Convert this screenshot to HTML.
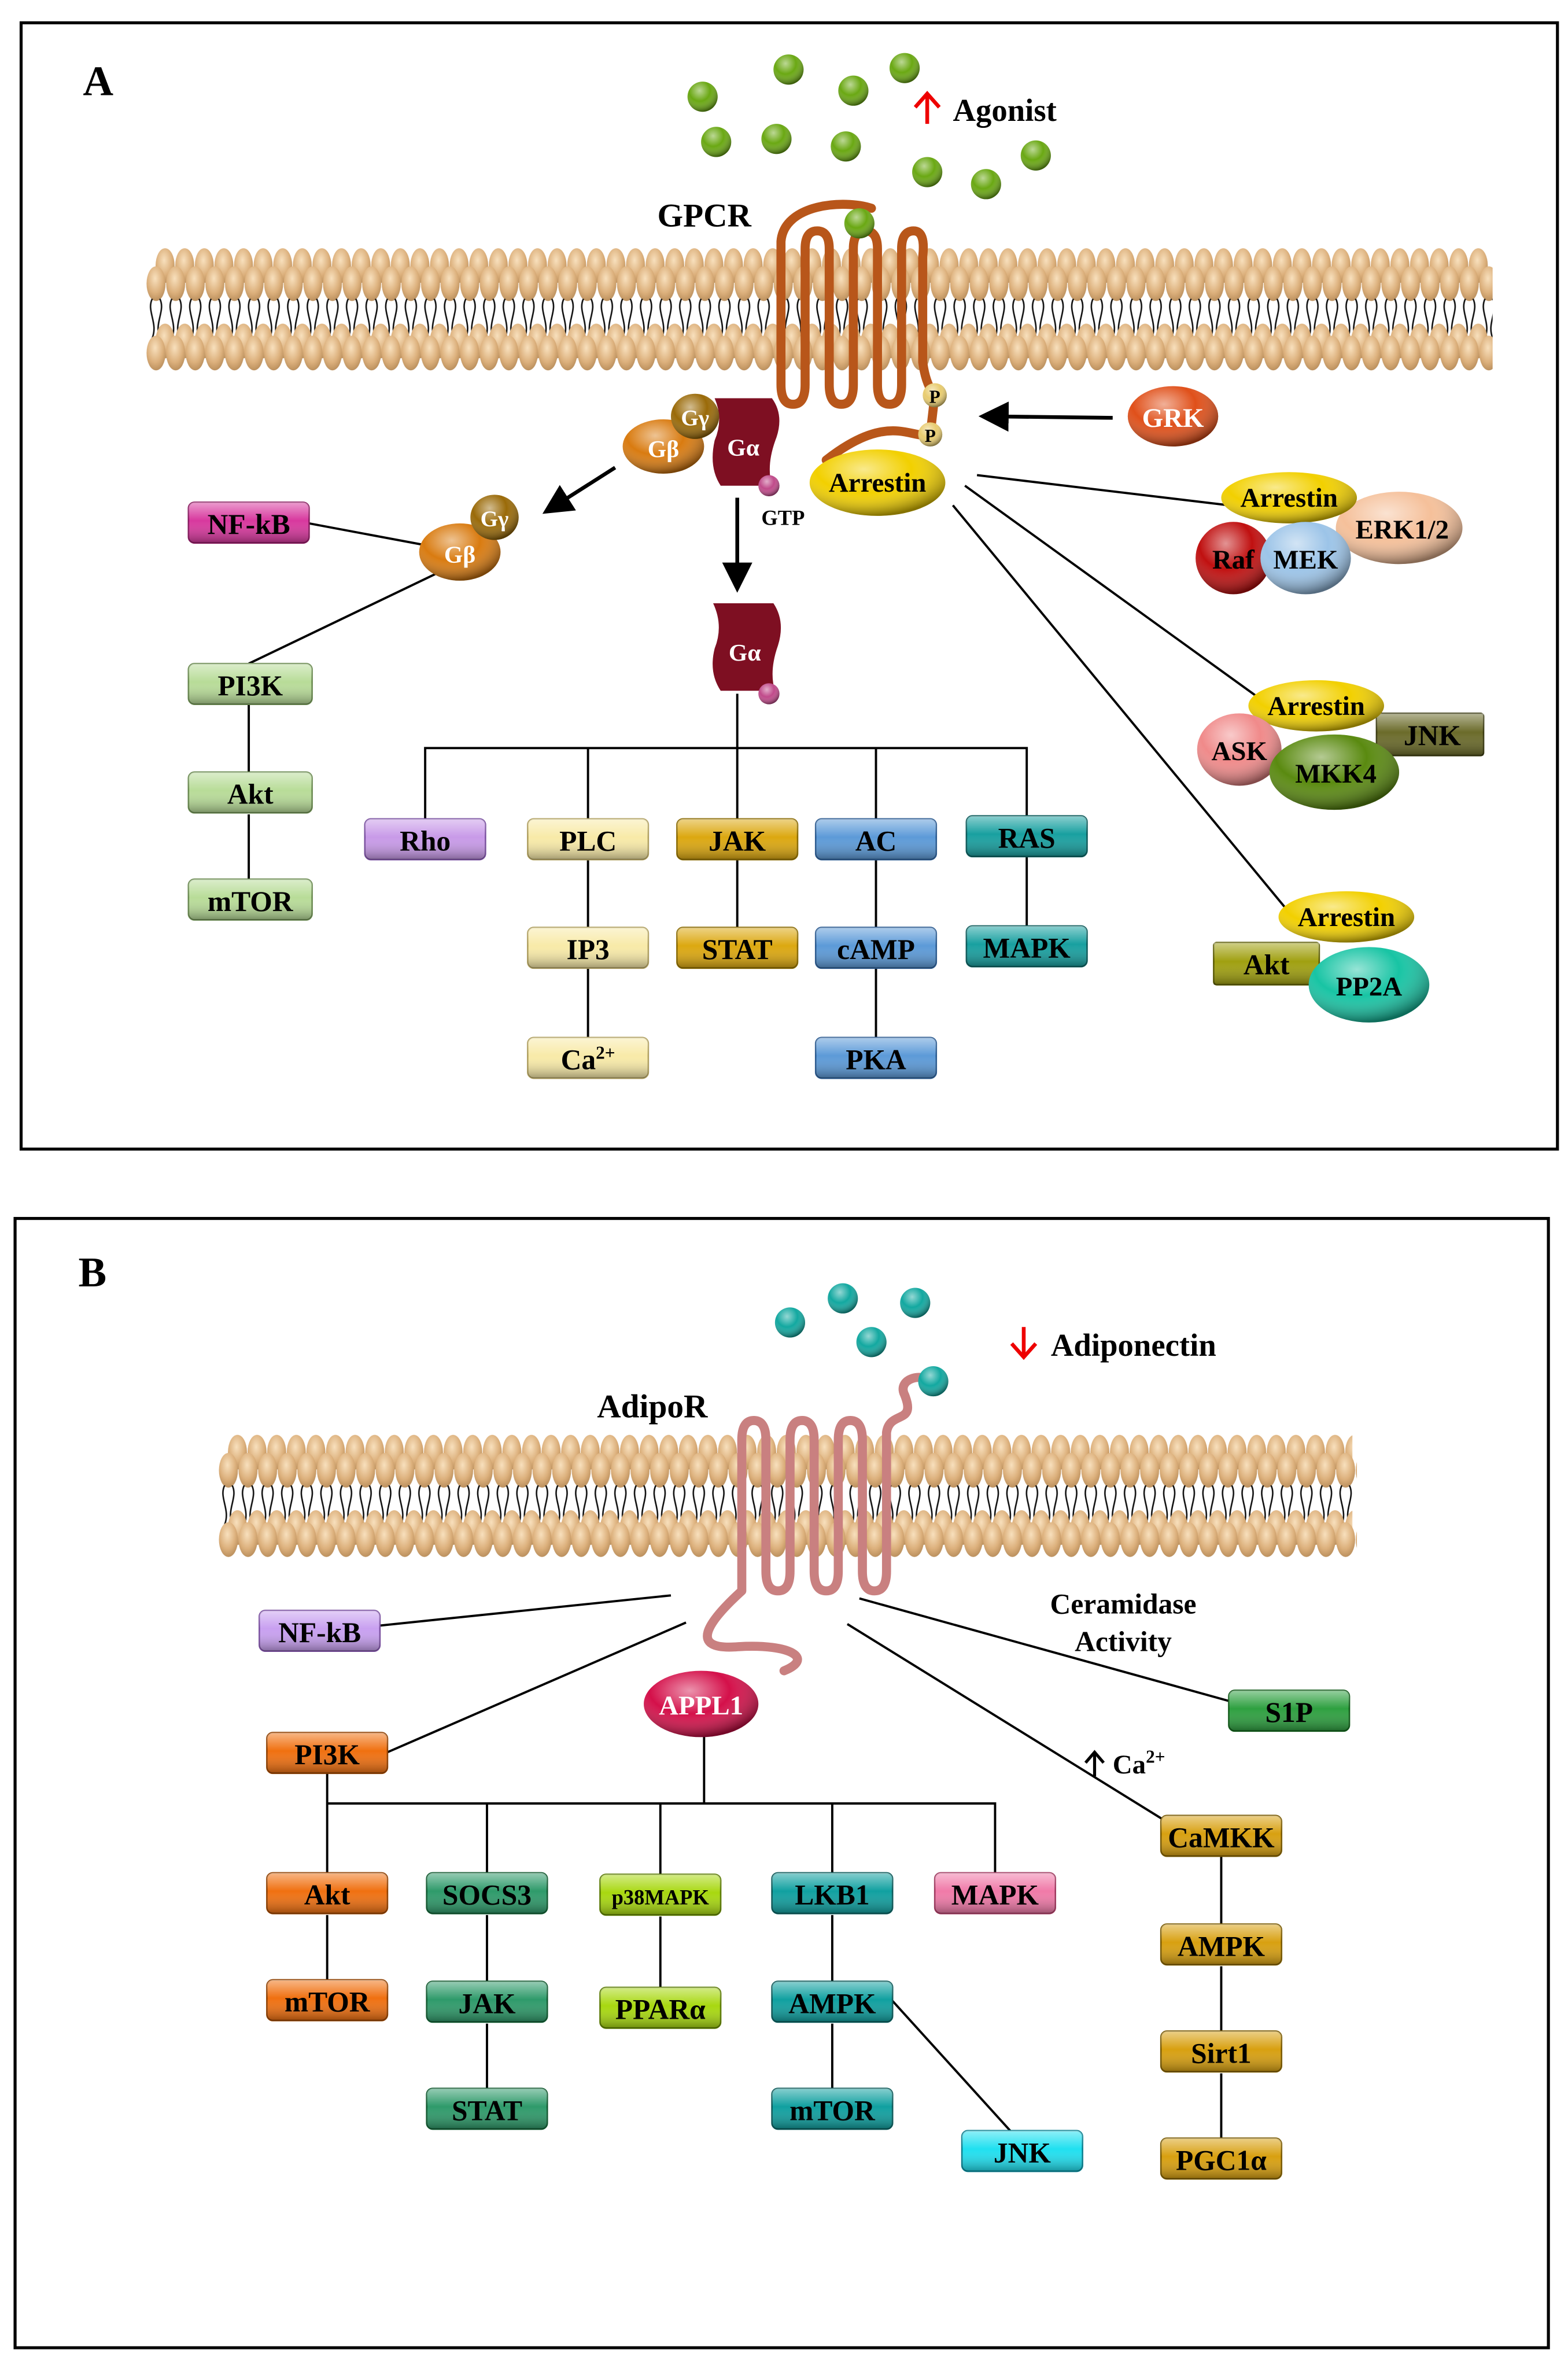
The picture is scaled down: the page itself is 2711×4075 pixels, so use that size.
<!DOCTYPE html>
<html><head><meta charset="utf-8"><style>html,body{margin:0;padding:0;background:#fff}svg{display:block}text{font-family:"Liberation Serif",serif;font-weight:bold}</style></head>
<body>
<svg width="2711" height="4075" viewBox="0 0 1040 1563" xmlns="http://www.w3.org/2000/svg">
<defs>
<linearGradient id="shine" x1="0" y1="0" x2="0" y2="1"><stop offset="0" stop-color="#fff" stop-opacity="0.5"/><stop offset="0.45" stop-color="#fff" stop-opacity="0"/><stop offset="1" stop-color="#000" stop-opacity="0.35"/></linearGradient>
<radialGradient id="ball" cx="0.4" cy="0.3" r="0.7"><stop offset="0" stop-color="#fff" stop-opacity="0.55"/><stop offset="0.5" stop-color="#fff" stop-opacity="0"/><stop offset="1" stop-color="#000" stop-opacity="0.45"/></radialGradient>
<radialGradient id="head" cx="0.45" cy="0.35" r="0.7"><stop offset="0" stop-color="#f8e0bd"/><stop offset="0.6" stop-color="#dcb07c"/><stop offset="1" stop-color="#b58a58"/></radialGradient>
<pattern id="heads" width="13" height="24" patternUnits="userSpaceOnUse"><ellipse cx="6.5" cy="12" rx="6.3" ry="11.5" fill="url(#head)"/></pattern>
<pattern id="tails" width="13" height="26" patternUnits="userSpaceOnUse"><path d="M4 0 C0 8,8 16,4 26 M9 0 C13 8,5 16,9 26" stroke="#111" stroke-width="1" fill="none"/></pattern>
<marker id="ah" markerWidth="8" markerHeight="8" refX="6" refY="4" orient="auto" markerUnits="strokeWidth"><path d="M0,0 L8,4 L0,8 Z" fill="#000"/></marker>
</defs>

<rect x="14" y="15" width="1019" height="747" fill="none" stroke="#000" stroke-width="2"/>
<rect x="10" y="808" width="1017" height="749" fill="none" stroke="#000" stroke-width="2"/>
<text x="55" y="63" font-size="28">A</text>
<text x="52" y="853" font-size="28">B</text>

<!-- Membrane A -->
<g transform="translate(103,164)"><rect x="0" y="0" width="884" height="24" fill="url(#heads)"/></g>
<g transform="translate(97,176)"><rect x="0" y="0" width="893" height="24" fill="url(#heads)"/></g>
<g transform="translate(97,198)"><rect x="0" y="0" width="893" height="26" fill="url(#tails)"/></g>
<g transform="translate(103,214)"><rect x="0" y="0" width="884" height="24" fill="url(#heads)"/></g>
<g transform="translate(97,222)"><rect x="0" y="0" width="893" height="24" fill="url(#heads)"/></g>

<g fill="#6aa813">
<circle cx="466" cy="64" r="10"/><circle cx="523" cy="46" r="10"/><circle cx="566" cy="60" r="10"/><circle cx="600" cy="45" r="10"/><circle cx="475" cy="94" r="10"/><circle cx="515" cy="92" r="10"/><circle cx="561" cy="97" r="10"/><circle cx="615" cy="114" r="10"/><circle cx="654" cy="122" r="10"/><circle cx="687" cy="103" r="10"/></g>
<g fill="url(#ball)"><circle cx="466" cy="64" r="10"/><circle cx="523" cy="46" r="10"/><circle cx="566" cy="60" r="10"/><circle cx="600" cy="45" r="10"/><circle cx="475" cy="94" r="10"/><circle cx="515" cy="92" r="10"/><circle cx="561" cy="97" r="10"/><circle cx="615" cy="114" r="10"/><circle cx="654" cy="122" r="10"/><circle cx="687" cy="103" r="10"/></g>
<path d="M615,82 L615,63 M607,71 L615,62 L623,71" stroke="#e00" stroke-width="2.5" fill="none"/>
<text x="632" y="80" font-size="21">Agonist</text>
<text x="436" y="150" font-size="22">GPCR</text>

<path d="M578,138 C560,132 520,135 518,160 L518,255 Q518,268 526,268 Q534,268 534,255 L534,165 Q534,153 542,153 Q550,153 550,165 L550,255 Q550,268 558,268 Q566,268 566,255 L566,165 Q566,153 574,153 Q582,153 582,165 L582,255 Q582,268 590,268 Q598,268 598,255 L598,165 Q598,153 606,153 Q614,153 612,170 L612,240 Q614,255 620,262 L617,288 C605,292 590,272 548,305" stroke="#b8561a" stroke-width="6" fill="none" stroke-linecap="round" stroke-linejoin="round"/>
<circle cx="570" cy="148" r="10" fill="#6aa813"/><circle cx="570" cy="148" r="10" fill="url(#ball)"/>
<circle cx="620" cy="262" r="8" fill="#e8cc70"/><circle cx="620" cy="262" r="8" fill="url(#ball)"/><text x="620" y="267" font-size="12" text-anchor="middle">P</text>
<circle cx="617" cy="288" r="8" fill="#e8cc70"/><circle cx="617" cy="288" r="8" fill="url(#ball)"/><text x="617" y="293" font-size="12" text-anchor="middle">P</text>

<path d="M474,264 L512,264 Q520,275 515,290 Q508,308 512,322 L478,322 Q470,310 474,292 Q480,278 474,264 Z" fill="#7e0f22"/>
<text x="493" y="302" font-size="16" fill="#fff" text-anchor="middle">Gα</text>
<circle cx="510" cy="322" r="7" fill="#c04a8a"/><circle cx="510" cy="322" r="7" fill="url(#ball)"/>
<text x="505" y="348" font-size="14">GTP</text>
<ellipse cx="440" cy="296" rx="27" ry="18" fill="#d97b10"/><ellipse cx="440" cy="296" rx="27" ry="18" fill="url(#ball)"/><text x="440" y="303" font-size="16" fill="#fff" text-anchor="middle">Gβ</text>
<ellipse cx="461" cy="276" rx="16" ry="15" fill="#9a6a08"/><ellipse cx="461" cy="276" rx="16" ry="15" fill="url(#ball)"/><text x="461" y="282" font-size="15" fill="#fff" text-anchor="middle">Gγ</text>

<line x1="408" y1="310" x2="364" y2="338" stroke="#000" stroke-width="2.5" marker-end="url(#ah)"/>
<line x1="489" y1="330" x2="489" y2="388" stroke="#000" stroke-width="2.5" marker-end="url(#ah)"/>
<line x1="738" y1="277" x2="654" y2="276" stroke="#000" stroke-width="2.5" marker-end="url(#ah)"/>

<line x1="205" y1="347" x2="285" y2="362" stroke="#000" stroke-width="1.5"/>
<line x1="290" y1="380" x2="165" y2="440" stroke="#000" stroke-width="1.5"/>
<ellipse cx="305" cy="366" rx="27" ry="19" fill="#d97b10"/><ellipse cx="305" cy="366" rx="27" ry="19" fill="url(#ball)"/><text x="305" y="373" font-size="16" fill="#fff" text-anchor="middle">Gβ</text>
<ellipse cx="328" cy="343" rx="16" ry="15" fill="#9a6a08"/><ellipse cx="328" cy="343" rx="16" ry="15" fill="url(#ball)"/><text x="328" y="349" font-size="15" fill="#fff" text-anchor="middle">Gγ</text>

<path d="M473,400 L513,400 Q521,412 516,428 Q510,445 514,458 L478,458 Q470,446 474,430 Q480,415 473,400 Z" fill="#7e0f22"/>
<text x="494" y="438" font-size="16" fill="#fff" text-anchor="middle">Gα</text>
<circle cx="510" cy="460" r="7" fill="#c04a8a"/><circle cx="510" cy="460" r="7" fill="url(#ball)"/>

<g stroke="#000" stroke-width="1.5" fill="none">
<line x1="165" y1="467" x2="165" y2="512"/><line x1="165" y1="540" x2="165" y2="583"/>
<line x1="489" y1="460" x2="489" y2="496"/>
<polyline points="282,543 282,496 681,496 681,541"/>
<line x1="390" y1="496" x2="390" y2="543"/><line x1="489" y1="496" x2="489" y2="543"/><line x1="581" y1="496" x2="581" y2="543"/>
<line x1="390" y1="570" x2="390" y2="615"/><line x1="390" y1="642" x2="390" y2="688"/>
<line x1="489" y1="570" x2="489" y2="615"/>
<line x1="581" y1="570" x2="581" y2="615"/><line x1="581" y1="642" x2="581" y2="688"/>
<line x1="681" y1="568" x2="681" y2="614"/>
<line x1="648" y1="315" x2="815" y2="335"/>
<line x1="640" y1="322" x2="845" y2="470"/>
<line x1="632" y1="335" x2="855" y2="605"/>
</g>

<ellipse cx="582" cy="320" rx="45" ry="22" fill="#f2d000"/><ellipse cx="582" cy="320" rx="45" ry="22" fill="url(#ball)"/><text x="582" y="326" font-size="18" text-anchor="middle">Arrestin</text>
<ellipse cx="778" cy="276" rx="30" ry="20" fill="#e0501a"/><ellipse cx="778" cy="276" rx="30" ry="20" fill="url(#ball)"/><text x="778" y="283" font-size="18" fill="#fff" text-anchor="middle">GRK</text>

<ellipse cx="928" cy="350" rx="42" ry="24" fill="#f5c09a"/><ellipse cx="928" cy="350" rx="42" ry="24" fill="url(#ball)"/><text x="930" y="357" font-size="18" text-anchor="middle">ERK1/2</text>
<ellipse cx="855" cy="330" rx="45" ry="17" fill="#f2d000"/><ellipse cx="855" cy="330" rx="45" ry="17" fill="url(#ball)"/><text x="855" y="336" font-size="18" text-anchor="middle">Arrestin</text>
<ellipse cx="818" cy="370" rx="25" ry="24" fill="#c01010"/><ellipse cx="818" cy="370" rx="25" ry="24" fill="url(#ball)"/><text x="818" y="377" font-size="18" text-anchor="middle">Raf</text>
<ellipse cx="866" cy="370" rx="30" ry="24" fill="#9cc4e8"/><ellipse cx="866" cy="370" rx="30" ry="24" fill="url(#ball)"/><text x="866" y="377" font-size="18" text-anchor="middle">MEK</text>

<rect x="913" y="473" width="71" height="28" rx="2" fill="#6b6b2a" stroke="#3a3a10"/><rect x="913" y="473" width="71" height="28" fill="url(#shine)"/><text x="950" y="494" font-size="19" text-anchor="middle">JNK</text>
<ellipse cx="873" cy="468" rx="45" ry="17" fill="#f2d000"/><ellipse cx="873" cy="468" rx="45" ry="17" fill="url(#ball)"/><text x="873" y="474" font-size="18" text-anchor="middle">Arrestin</text>
<ellipse cx="822" cy="497" rx="28" ry="24" fill="#f08a8a"/><ellipse cx="822" cy="497" rx="28" ry="24" fill="url(#ball)"/><text x="822" y="504" font-size="18" text-anchor="middle">ASK</text>
<ellipse cx="885" cy="512" rx="43" ry="25" fill="#5a8a10"/><ellipse cx="885" cy="512" rx="43" ry="25" fill="url(#ball)"/><text x="886" y="519" font-size="18" text-anchor="middle">MKK4</text>

<ellipse cx="893" cy="608" rx="45" ry="17" fill="#f2d000"/><ellipse cx="893" cy="608" rx="45" ry="17" fill="url(#ball)"/><text x="893" y="614" font-size="18" text-anchor="middle">Arrestin</text>
<rect x="805" y="625" width="70" height="28" rx="2" fill="#a0a010" stroke="#5a5a00"/><rect x="805" y="625" width="70" height="28" fill="url(#shine)"/><text x="840" y="646" font-size="19" text-anchor="middle">Akt</text>
<ellipse cx="908" cy="653" rx="40" ry="25" fill="#18c4a4"/><ellipse cx="908" cy="653" rx="40" ry="25" fill="url(#ball)"/><text x="908" y="660" font-size="18" text-anchor="middle">PP2A</text>

<g font-size="19" text-anchor="middle">
<rect x="125" y="333" width="80" height="27" rx="4" fill="#d8389e" stroke="#8a1a60"/><rect x="125" y="333" width="80" height="27" rx="4" fill="url(#shine)"/><text x="165" y="354">NF-kB</text>
<rect x="125" y="440" width="82" height="27" rx="4" fill="#b8dc98" stroke="#6a8a50"/><rect x="125" y="440" width="82" height="27" rx="4" fill="url(#shine)"/><text x="166" y="461">PI3K</text>
<rect x="125" y="512" width="82" height="27" rx="4" fill="#b8dc98" stroke="#6a8a50"/><rect x="125" y="512" width="82" height="27" rx="4" fill="url(#shine)"/><text x="166" y="533">Akt</text>
<rect x="125" y="583" width="82" height="27" rx="4" fill="#b8dc98" stroke="#6a8a50"/><rect x="125" y="583" width="82" height="27" rx="4" fill="url(#shine)"/><text x="166" y="604">mTOR</text>
<rect x="242" y="543" width="80" height="27" rx="4" fill="#c89ae8" stroke="#7a50a0"/><rect x="242" y="543" width="80" height="27" rx="4" fill="url(#shine)"/><text x="282" y="564">Rho</text>
<rect x="350" y="543" width="80" height="27" rx="4" fill="#f8eaa8" stroke="#b0a060"/><rect x="350" y="543" width="80" height="27" rx="4" fill="url(#shine)"/><text x="390" y="564">PLC</text>
<rect x="350" y="615" width="80" height="27" rx="4" fill="#f8eaa8" stroke="#b0a060"/><rect x="350" y="615" width="80" height="27" rx="4" fill="url(#shine)"/><text x="390" y="636">IP3</text>
<rect x="350" y="688" width="80" height="27" rx="4" fill="#f8eaa8" stroke="#b0a060"/><rect x="350" y="688" width="80" height="27" rx="4" fill="url(#shine)"/><text x="390" y="709">Ca<tspan font-size="12" dy="-7">2+</tspan></text>
<rect x="449" y="543" width="80" height="27" rx="4" fill="#dca810" stroke="#8a6a00"/><rect x="449" y="543" width="80" height="27" rx="4" fill="url(#shine)"/><text x="489" y="564">JAK</text>
<rect x="449" y="615" width="80" height="27" rx="4" fill="#dca810" stroke="#8a6a00"/><rect x="449" y="615" width="80" height="27" rx="4" fill="url(#shine)"/><text x="489" y="636">STAT</text>
<rect x="541" y="543" width="80" height="27" rx="4" fill="#5c9ad8" stroke="#2a5a90"/><rect x="541" y="543" width="80" height="27" rx="4" fill="url(#shine)"/><text x="581" y="564">AC</text>
<rect x="541" y="615" width="80" height="27" rx="4" fill="#5c9ad8" stroke="#2a5a90"/><rect x="541" y="615" width="80" height="27" rx="4" fill="url(#shine)"/><text x="581" y="636">cAMP</text>
<rect x="541" y="688" width="80" height="27" rx="4" fill="#5c9ad8" stroke="#2a5a90"/><rect x="541" y="688" width="80" height="27" rx="4" fill="url(#shine)"/><text x="581" y="709">PKA</text>
<rect x="641" y="541" width="80" height="27" rx="4" fill="#18a0a0" stroke="#0a5a5a"/><rect x="641" y="541" width="80" height="27" rx="4" fill="url(#shine)"/><text x="681" y="562">RAS</text>
<rect x="641" y="614" width="80" height="27" rx="4" fill="#18a0a0" stroke="#0a5a5a"/><rect x="641" y="614" width="80" height="27" rx="4" fill="url(#shine)"/><text x="681" y="635">MAPK</text>
</g>

<!-- ============ Panel B ============ -->
<g transform="translate(151,951)"><rect x="0" y="0" width="746" height="24" fill="url(#heads)"/></g>
<g transform="translate(145,963)"><rect x="0" y="0" width="755" height="24" fill="url(#heads)"/></g>
<g transform="translate(145,985)"><rect x="0" y="0" width="755" height="26" fill="url(#tails)"/></g>
<g transform="translate(151,1001)"><rect x="0" y="0" width="746" height="24" fill="url(#heads)"/></g>
<g transform="translate(145,1009)"><rect x="0" y="0" width="755" height="24" fill="url(#heads)"/></g>

<g fill="#12a8a0"><circle cx="524" cy="877" r="10"/><circle cx="559" cy="861" r="10"/><circle cx="607" cy="864" r="10"/><circle cx="578" cy="890" r="10"/></g>
<g fill="url(#ball)"><circle cx="524" cy="877" r="10"/><circle cx="559" cy="861" r="10"/><circle cx="607" cy="864" r="10"/><circle cx="578" cy="890" r="10"/></g>
<path d="M679,880 L679,899 M671,891 L679,900 L687,891" stroke="#e00" stroke-width="2.5" fill="none"/>
<text x="697" y="899" font-size="21">Adiponectin</text>
<text x="396" y="940" font-size="22">AdipoR</text>

<path d="M520,1108 C540,1100 525,1090 490,1092 C455,1095 470,1075 492,1055 L492,955 Q492,942 500,942 Q508,942 508,955 L508,1042 Q508,1055 516,1055 Q524,1055 524,1042 L524,955 Q524,942 532,942 Q540,942 540,955 L540,1042 Q540,1055 548,1055 Q556,1055 556,1042 L556,955 Q556,942 564,942 Q572,942 572,955 L572,1042 Q572,1055 580,1055 Q588,1055 588,1042 L588,950 C590,935 608,945 600,925 C595,915 610,910 618,916" stroke="#c98080" stroke-width="6" fill="none" stroke-linecap="round" stroke-linejoin="round"/>
<circle cx="619" cy="916" r="10" fill="#12a8a0"/><circle cx="619" cy="916" r="10" fill="url(#ball)"/>

<g stroke="#000" stroke-width="1.5" fill="none">
<line x1="252" y1="1078" x2="445" y2="1058"/>
<line x1="257" y1="1162" x2="455" y2="1076"/>
<line x1="570" y1="1060" x2="815" y2="1128"/>
<line x1="562" y1="1077" x2="772" y2="1207"/>
<line x1="467" y1="1150" x2="467" y2="1196"/>
<polyline points="217,1196 660,1196 660,1242"/>
<line x1="217" y1="1176" x2="217" y2="1242"/><line x1="217" y1="1270" x2="217" y2="1313"/>
<line x1="323" y1="1196" x2="323" y2="1242"/><line x1="323" y1="1270" x2="323" y2="1314"/><line x1="323" y1="1342" x2="323" y2="1385"/>
<line x1="438" y1="1196" x2="438" y2="1243"/><line x1="438" y1="1271" x2="438" y2="1318"/>
<line x1="552" y1="1196" x2="552" y2="1242"/><line x1="552" y1="1270" x2="552" y2="1314"/><line x1="552" y1="1342" x2="552" y2="1385"/>
<line x1="592" y1="1327" x2="670" y2="1413"/>
<line x1="810" y1="1231" x2="810" y2="1276"/><line x1="810" y1="1304" x2="810" y2="1347"/><line x1="810" y1="1375" x2="810" y2="1418"/>
</g>
<path d="M726,1178 L726,1163 M720,1169 L726,1162 L732,1169" stroke="#000" stroke-width="2" fill="none"/>
<text x="738" y="1176" font-size="18">Ca<tspan font-size="12" dy="-7">2+</tspan></text>
<text x="745" y="1070" font-size="19" text-anchor="middle">Ceramidase</text>
<text x="745" y="1095" font-size="19" text-anchor="middle">Activity</text>

<ellipse cx="465" cy="1130" rx="38" ry="22" fill="#d4104a"/><ellipse cx="465" cy="1130" rx="38" ry="22" fill="url(#ball)"/><text x="465" y="1137" font-size="18" fill="#fff" text-anchor="middle">APPL1</text>

<g font-size="19" text-anchor="middle">
<rect x="172" y="1068" width="80" height="27" rx="4" fill="#c8a0f0" stroke="#7a50a0"/><rect x="172" y="1068" width="80" height="27" rx="4" fill="url(#shine)"/><text x="212" y="1089">NF-kB</text>
<rect x="177" y="1149" width="80" height="27" rx="4" fill="#f07010" stroke="#904000"/><rect x="177" y="1149" width="80" height="27" rx="4" fill="url(#shine)"/><text x="217" y="1170">PI3K</text>
<rect x="177" y="1242" width="80" height="27" rx="4" fill="#f07010" stroke="#904000"/><rect x="177" y="1242" width="80" height="27" rx="4" fill="url(#shine)"/><text x="217" y="1263">Akt</text>
<rect x="177" y="1313" width="80" height="27" rx="4" fill="#f07010" stroke="#904000"/><rect x="177" y="1313" width="80" height="27" rx="4" fill="url(#shine)"/><text x="217" y="1334">mTOR</text>
<rect x="283" y="1242" width="80" height="27" rx="4" fill="#2e9a6a" stroke="#105a30"/><rect x="283" y="1242" width="80" height="27" rx="4" fill="url(#shine)"/><text x="323" y="1263">SOCS3</text>
<rect x="283" y="1314" width="80" height="27" rx="4" fill="#2e9a6a" stroke="#105a30"/><rect x="283" y="1314" width="80" height="27" rx="4" fill="url(#shine)"/><text x="323" y="1335">JAK</text>
<rect x="283" y="1385" width="80" height="27" rx="4" fill="#2e9a6a" stroke="#105a30"/><rect x="283" y="1385" width="80" height="27" rx="4" fill="url(#shine)"/><text x="323" y="1406">STAT</text>
<rect x="398" y="1243" width="80" height="27" rx="4" fill="#a8d810" stroke="#5a7a00"/><rect x="398" y="1243" width="80" height="27" rx="4" fill="url(#shine)"/><text x="438" y="1263" font-size="14">p38MAPK</text>
<rect x="398" y="1318" width="80" height="27" rx="4" fill="#a8d810" stroke="#5a7a00"/><rect x="398" y="1318" width="80" height="27" rx="4" fill="url(#shine)"/><text x="438" y="1339">PPARα</text>
<rect x="512" y="1242" width="80" height="27" rx="4" fill="#10a0a0" stroke="#0a5a5a"/><rect x="512" y="1242" width="80" height="27" rx="4" fill="url(#shine)"/><text x="552" y="1263">LKB1</text>
<rect x="512" y="1314" width="80" height="27" rx="4" fill="#10a0a0" stroke="#0a5a5a"/><rect x="512" y="1314" width="80" height="27" rx="4" fill="url(#shine)"/><text x="552" y="1335">AMPK</text>
<rect x="512" y="1385" width="80" height="27" rx="4" fill="#10a0a0" stroke="#0a5a5a"/><rect x="512" y="1385" width="80" height="27" rx="4" fill="url(#shine)"/><text x="552" y="1406">mTOR</text>
<rect x="620" y="1242" width="80" height="27" rx="4" fill="#f07aa8" stroke="#a03a60"/><rect x="620" y="1242" width="80" height="27" rx="4" fill="url(#shine)"/><text x="660" y="1263">MAPK</text>
<rect x="638" y="1413" width="80" height="27" rx="4" fill="#20e0f0" stroke="#0a8090"/><rect x="638" y="1413" width="80" height="27" rx="4" fill="url(#shine)"/><text x="678" y="1434">JNK</text>
<rect x="815" y="1121" width="80" height="27" rx="4" fill="#2ea040" stroke="#105a18"/><rect x="815" y="1121" width="80" height="27" rx="4" fill="url(#shine)"/><text x="855" y="1142">S1P</text>
<rect x="770" y="1204" width="80" height="27" rx="4" fill="#d8a010" stroke="#7a5a00"/><rect x="770" y="1204" width="80" height="27" rx="4" fill="url(#shine)"/><text x="810" y="1225">CaMKK</text>
<rect x="770" y="1276" width="80" height="27" rx="4" fill="#d8a010" stroke="#7a5a00"/><rect x="770" y="1276" width="80" height="27" rx="4" fill="url(#shine)"/><text x="810" y="1297">AMPK</text>
<rect x="770" y="1347" width="80" height="27" rx="4" fill="#d8a010" stroke="#7a5a00"/><rect x="770" y="1347" width="80" height="27" rx="4" fill="url(#shine)"/><text x="810" y="1368">Sirt1</text>
<rect x="770" y="1418" width="80" height="27" rx="4" fill="#d8a010" stroke="#7a5a00"/><rect x="770" y="1418" width="80" height="27" rx="4" fill="url(#shine)"/><text x="810" y="1439">PGC1α</text>
</g>
</svg>
</body></html>
